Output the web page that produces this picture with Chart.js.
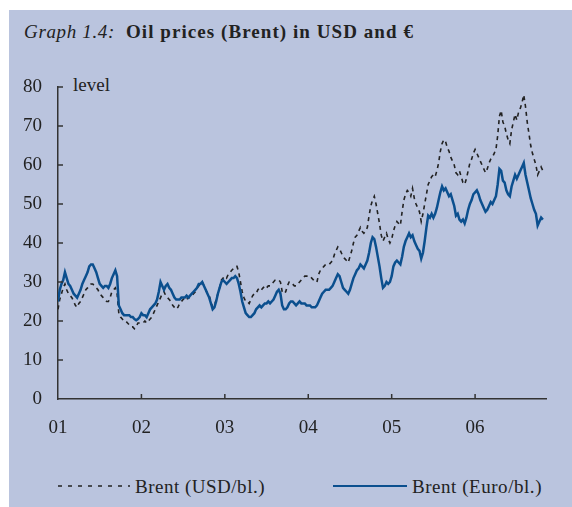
<!DOCTYPE html>
<html>
<head>
<meta charset="utf-8">
<script src="https://cdn.jsdelivr.net/npm/chart.js@4/dist/chart.umd.min.js"></script>
<style>
html,body{margin:0;padding:0;background:#ffffff;}
#wrap{position:relative;width:572px;height:507px;overflow:hidden;}
#panel{position:absolute;left:9px;top:10px;width:563px;height:497px;background:#bac4de;}
#c{position:absolute;left:0;top:0;}
.t{position:absolute;font-family:'Liberation Serif','Times New Roman',serif;color:#222;white-space:nowrap;font-size:19px;line-height:19px;}
</style>
</head>
<body>
<div id="wrap">
  <div id="panel"></div>
  <div class="t" id="t1" style="left:24px;top:22px;font-style:italic;">Graph 1.4:</div>
  <div class="t" id="t2" style="left:126px;top:22px;font-weight:bold;">Oil prices (Brent) in USD and €</div>
  <div class="t" style="left:73px;top:75px;">level</div>
  <svg style="position:absolute;left:58px;top:484px" width="72" height="4"><line x1="0" y1="2" x2="72" y2="2" stroke="#222" stroke-width="1.6" stroke-dasharray="4,6"/></svg>
  <div class="t" id="l1" style="left:135px;top:477px;">Brent (USD/bl.)</div>
  <div style="position:absolute;left:333px;top:485px;width:74px;height:2px;background:#0b4f8e;"></div>
  <div class="t" id="l2" style="left:412px;top:477px;">Brent (Euro/bl.)</div>
  <canvas id="c" width="572" height="507"></canvas>
</div>
<script>
// ---- data: weekly readings (4 per month), Jan 2001 .. Oct 2006 ----
const firstYear = 2001;
const pointsPerYear = 48;
const yearLabels = ['01', '02', '03', '04', '05', '06'];

const usd2001 = [23,25.5,27,28.5, 29.5,28,27,26.5, 26,25,24,23.5, 24.5,25,26,27, 28,28.5,29,29.5, 29.5,29,28.5,28, 27,26.5,26,25.5, 25,25,26,27.5, 28,28.5,27,22, 21,20.5,20,20, 19.5,19,18.5,18.5, 18,18.5,19.5,19.5];
const usd2002 = [19.5,19.5,20,19.5, 20,20.5,21,22, 23,24,25,26, 27,27.5,26.5,26, 25.5,25,24,23.5, 23,23.5,24.5,25, 25.5,26,25.5,26, 26,26.5,27,27.5, 28.5,29,29.5,30, 29,28,27,26.5, 25,23.5,24,25.5, 27,28.5,30.5,31];
const usd2003 = [31.5,31,32,32.5, 33,33.5,34,34, 32.5,30,27.5,26, 25,25,24.5,25.5, 26.5,27,27,28, 28.5,28,28.5,29, 28.5,29,29,29.5, 30,30.5,30.5,30.5, 30,27.5,27,27.5, 29,30,30,29.5, 29,29,29.5,30, 30.5,31,31.5,31.5];
const usd2004 = [31.5,31.5,31,30.5, 30,30,32,33, 33.5,34,34.5,34.5, 34.5,35,35.5,37, 38,39,38.5,37.5, 36.5,36,35.5,35, 36.5,38,40,41.5, 42,43,44,43, 42.5,43,44,47, 49.5,51,52,50, 47.5,45,42,40.5, 41.5,42.5,41,40];
const usd2005 = [41,43,44.5,45.5, 45,44.5,48,51, 52.5,53.5,53,52, 54,51.5,50,49, 48,45.5,47.5,50, 52.5,55,56,57, 57.5,57,58.5,60.5, 63.5,65.5,66.5,66, 64.5,63.5,62,61, 60,58,57.5,58.5, 57,55.5,55,56.5, 58.5,60.5,61.5,63];
const usd2006 = [64,63,62,61, 60,59,58,59, 60.5,61.5,62,63, 64,67.5,72.5,74, 71,70,68,66.5, 65.5,69,71,73, 71.5,73.5,74.5,76, 78,75,71,68, 65,63,61.5,60, 57.5,58.5,59.5,58.5];

const eur2001 = [25,28,29.5,30.5, 32.5,31,29.5,29, 28,27,26.5,26, 27,28,29.5,30.5, 31.5,32.5,34,34.5, 34.5,33.5,32.5,31, 29.5,29,28.5,29, 29,28.5,29.5,31, 32,33,31.5,24, 23,22,21.5,21.5, 21.5,21.5,21,21, 20.5,20.2,20.5,21];
const eur2002 = [22,21.5,21.5,21, 22,23,23.5,24, 24.5,25.5,27.5,30, 29,28,29,29.5, 28.5,28,27,26, 25.5,25.5,25.5,26, 26,26,26.5,26, 26.5,27,27.5,28, 28.5,29.5,29.5,30, 29,28,27,26, 24.5,23,23.5,25, 27,28.5,30,30.5];
const eur2003 = [30,29.5,30,30.5, 31,31,31.5,31, 29.5,27.5,25,23.5, 22,21.5,21,21, 21.5,22,23,23.5, 24,23.5,24,24.5, 24.5,25,24.5,25, 25.5,26.5,27.5,28, 27,24,23,23, 23.5,24.5,25,25, 24.5,24,24.5,25, 24.5,24.5,24.5,24];
const eur2004 = [24,24,23.5,23.5, 23.5,24,25,26, 27,27.5,28,28, 28,28.5,29,30, 31,32,31.5,30, 28.5,28,27.5,27, 28,29.5,31,32, 33,33.5,34.5,34, 33.5,34.5,35.5,37.5, 40,41.5,41,39, 36.5,34,31,28.5, 29,30,29.5,30];
const eur2005 = [31.5,34,35,35.5, 35,34.5,36.5,39, 40.5,41.5,42.5,41.5, 42,40.5,39.5,38.5, 38,36,37.5,40.5, 44,47,46.5,47.5, 46.5,47.5,49,51, 53,54.5,53.5,54, 53,52,52.5,51, 49.5,47,47.5,46, 45.5,46,45,46.5, 48.5,50,51,52.5];
const eur2006 = [53,53.5,52.5,51, 50,49,48,48.5, 49.5,50.5,50,51, 52,55,59,58.5, 56,55.5,53.5,52.5, 52,54.5,56,57.5, 56.5,57.5,58.5,59.5, 60.5,57.5,55.5,53.5, 51.5,50,48.5,47.5, 44.5,45.5,46.5,46];

const brentUSD = [].concat(usd2001, usd2002, usd2003, usd2004, usd2005, usd2006);
const brentEUR = [].concat(eur2001, eur2002, eur2003, eur2004, eur2005, eur2006);

function toPoints(arr) {
  return arr.map((v, i) => ({ x: firstYear + i / pointsPerYear, y: v }));
}

// fit text spans to the reference widths
function fitWidth(id, target) {
  const el = document.getElementById(id);
  const n = el.textContent.length;
  const w = el.getBoundingClientRect().width;
  el.style.letterSpacing = ((target - w) / n) + 'px';
}
fitWidth('t1', 91);
fitWidth('t2', 288);
fitWidth('l1', 130);
fitWidth('l2', 130);

const FONT = "'Liberation Serif','Times New Roman',serif";
const AXIS = '#333333';

const inwardTicks = {
  id: 'inwardTicks',
  afterDraw(chart) {
    const { ctx, chartArea: a, scales: { x, y } } = chart;
    ctx.save();
    ctx.strokeStyle = AXIS;
    ctx.lineWidth = 1.5;
    ctx.beginPath();
    y.ticks.forEach(t => {
      if (t.value === y.min) return;
      const py = y.getPixelForValue(t.value);
      ctx.moveTo(a.left, py);
      ctx.lineTo(a.left + 5, py);
    });
    x.ticks.forEach(t => {
      if (t.value === x.min) return;
      const px = x.getPixelForValue(t.value);
      ctx.moveTo(px, a.bottom);
      ctx.lineTo(px, a.bottom - 5);
    });
    ctx.stroke();
    ctx.restore();
  }
};

new Chart(document.getElementById('c'), {
  type: 'line',
  data: {
    datasets: [
      {
        label: 'Brent (Euro/bl.)',
        data: toPoints(brentEUR),
        borderColor: '#0b4f8e',
        borderWidth: 2.5,
        pointRadius: 0,
        tension: 0,
        fill: false,
        order: 0
      },
      {
        label: 'Brent (USD/bl.)',
        data: toPoints(brentUSD),
        borderColor: '#222222',
        borderWidth: 1.6,
        borderDash: [4, 4],
        pointRadius: 0,
        tension: 0,
        fill: false,
        order: 1
      }
    ]
  },
  options: {
    responsive: false,
    animation: false,
    events: [],
    layout: { padding: { left: 0, top: 87, right: 26, bottom: 68 } },
    plugins: { legend: { display: false }, tooltip: { enabled: false }, title: { display: false } },
    scales: {
      x: {
        type: 'linear',
        min: 2001,
        max: 2006.85,
        afterFit(s) { s.height = 40; },
        grid: { display: false, drawTicks: false },
        border: { display: true, color: AXIS, width: 1.5 },
        ticks: {
          stepSize: 1,
          includeBounds: false,
          autoSkip: false,
          maxRotation: 0,
          padding: 18,
          color: '#222',
          font: { family: FONT, size: 19 },
          callback: (v) => yearLabels[Math.round(v - firstYear)]
        }
      },
      y: {
        min: 0,
        max: 80,
        afterFit(s) { s.width = 58; },
        grid: { display: false, drawTicks: false },
        border: { display: true, color: AXIS, width: 1.5 },
        ticks: {
          stepSize: 10,
          padding: 16,
          color: '#222',
          font: { family: FONT, size: 19 }
        }
      }
    }
  },
  plugins: [inwardTicks]
});
</script>
</body>
</html>
